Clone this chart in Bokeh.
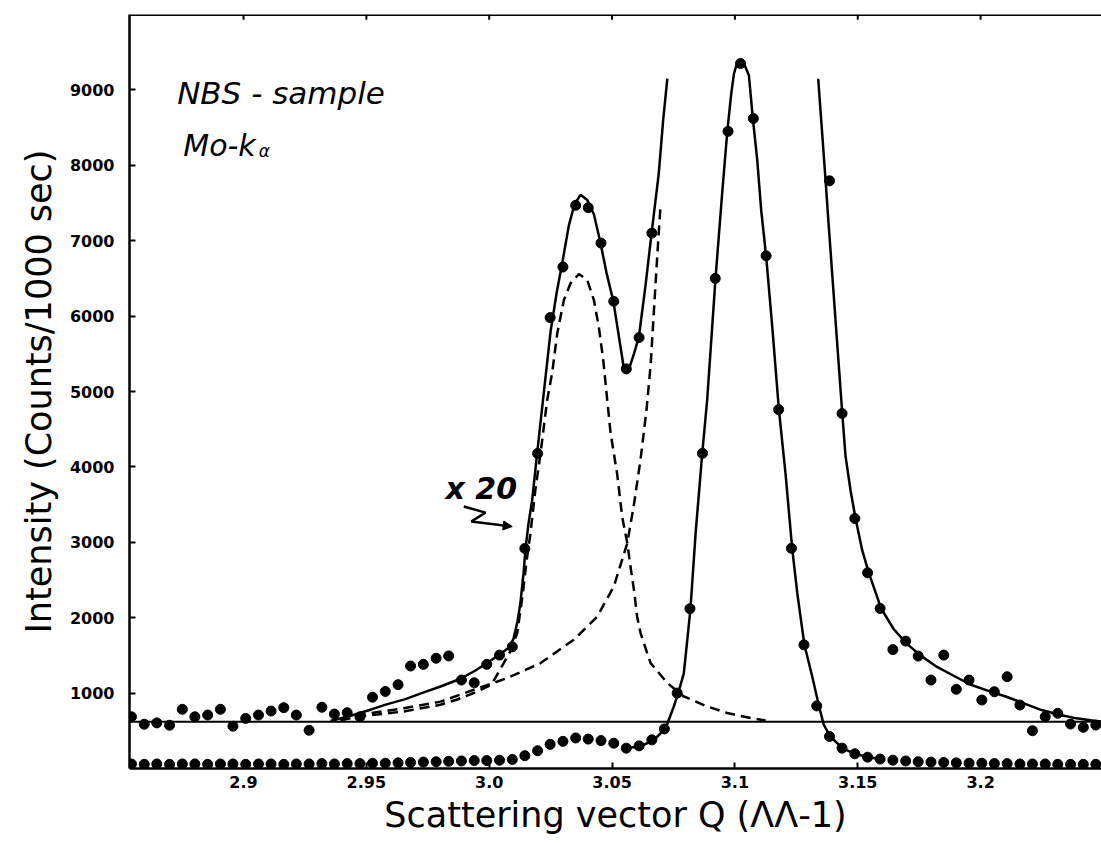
from bokeh.plotting import figure
from bokeh.models import (FixedTicker, Range1d, Span, Label, Arrow,
                          NormalHead, CustomJSTickFormatter)
from bokeh.embed import file_html
from bokeh.resources import INLINE

# ---------------- data ----------------
# measurement grid (scattering vector Q)
q = [2.8544, 2.8596, 2.8647, 2.8699, 2.8751, 2.8802, 2.8854, 2.8906, 2.8957, 2.9009,
     2.9061, 2.9112, 2.9164, 2.9215, 2.9267, 2.9319, 2.9370, 2.9422, 2.9474, 2.9525,
     2.9577, 2.9629, 2.9680, 2.9732, 2.9784, 2.9835, 2.9887, 2.9939, 2.9990, 3.0042,
     3.0094, 3.0145, 3.0197, 3.0248, 3.0300, 3.0352, 3.0403, 3.0455, 3.0507, 3.0558,
     3.0610, 3.0662, 3.0713, 3.0765, 3.0817, 3.0868, 3.0920, 3.0972, 3.1023, 3.1075,
     3.1127, 3.1178, 3.1230, 3.1281, 3.1333, 3.1385, 3.1436, 3.1488, 3.1540, 3.1591,
     3.1643, 3.1695, 3.1746, 3.1798, 3.1850, 3.1901, 3.1953, 3.2005, 3.2056, 3.2108,
     3.2160, 3.2211, 3.2263, 3.2314, 3.2366, 3.2418, 3.2469]

# measured counts (x1)
raw_counts = [60, 55, 60, 55, 60, 60, 55, 60, 60, 55,
              60, 60, 55, 60, 60, 65, 60, 65, 65, 70,
              70, 75, 80, 85, 90, 95, 100, 105, 105, 110,
              120, 170, 235, 320, 360, 405, 390, 370, 335, 270,
              300, 380, 525, 1000, 2120, 4180, 6500, 8450, 9350, 8620,
              6800, 4760, 2920, 1640, 830, 425, 270, 195, 150, 125,
              110, 100, 90, 85, 80, 75, 70, 70, 65, 65,
              60, 60, 60, 55, 55, 55, 55]

# same counts magnified x20 (None = off scale)
x20_counts = [686, 587, 605, 574, 785, 686, 709, 785, 561, 664,
              709, 762, 807, 709, 507, 812, 722, 740, 686, 946,
              1022, 1112, 1359, 1381, 1462, 1493, 1173, 1137, 1381, 1504,
              1614, 2918, 4178, 5980, 6651, 7469, 7438, 6969, 6196, 5300,
              5715, 7101, None, None, None, None, None, None, None, None,
              None, None, None, None, None, 7794, 4708, 3316, 2595, 2123,
              1577, 1690, 1491, 1173, 1504, 1050, 1173, 908, 1018, 1217,
              842, 501, 687, 732, 590, 546, 577]

background_x20 = 620

# fitted curve of the x1 data
fit_raw_q = [3.0555, 3.0616, 3.0670, 3.0718, 3.0751, 3.0769, 3.0792, 3.0806, 3.0819, 3.0840,
             3.0867, 3.0887, 3.0921, 3.0948, 3.0969, 3.0985, 3.0996, 3.1011, 3.1023, 3.1037,
             3.1057, 3.1073, 3.1091, 3.1107, 3.1127, 3.1152, 3.1179, 3.1206, 3.1233, 3.1254,
             3.1283, 3.1315, 3.1342, 3.1362, 3.1389, 3.1439, 3.1491, 3.1544, 3.1593]
fit_raw_i = [270, 295, 378, 533, 819, 997, 1262, 1700, 2114, 3117,
             4178, 4884, 6497, 7624, 8449, 8949, 9214, 9380, 9400, 9350,
             9191, 8618, 8065, 7402, 6797, 5856, 4761, 3912, 2919, 2322,
             1637, 1217, 828, 577, 421, 268, 192, 150, 125]

# fitted curve of the x20 data, left part
fit20_left_q = [2.9354, 2.9436, 2.9517, 2.9582, 2.9659, 2.9725, 2.9802, 2.9883, 2.9944, 3.0005,
                3.0046, 3.0079, 3.0099, 3.0115, 3.0127, 3.0140, 3.0148, 3.0160, 3.0175, 3.0195,
                3.0221, 3.0250, 3.0274, 3.0297, 3.0324, 3.0347, 3.0372, 3.0399, 3.0426, 3.0453,
                3.0477, 3.0505, 3.0522, 3.0534, 3.0547, 3.0555, 3.0567, 3.0589, 3.0609, 3.0636,
                3.0661, 3.0690, 3.0708, 3.0725]
fit20_left_i = [630, 700, 780, 850, 920, 1000, 1088, 1190, 1300, 1430,
                1520, 1600, 1720, 1950, 2194, 2600, 2922, 3250, 3563, 4180,
                4950, 5800, 6300, 6700, 7200, 7480, 7610, 7540, 7350, 6970,
                6580, 6200, 5850, 5600, 5330, 5240, 5280, 5500, 5720, 6400,
                7105, 7890, 8600, 9150]

# fitted curve of the x20 data, right part
fit20_right_q = [3.1339, 3.1355, 3.1369, 3.1382, 3.1396, 3.1416, 3.1437, 3.1450, 3.1471, 3.1491,
                 3.1518, 3.1545, 3.1595, 3.1646, 3.1698, 3.1755, 3.1821, 3.1890, 3.1963, 3.2040,
                 3.2105, 3.2179, 3.2248, 3.2325, 3.2390, 3.2468, 3.2520]
fit20_right_i = [9148, 8430, 7800, 7190, 6560, 5650, 4708, 4150, 3680, 3316,
                 2896, 2595, 2123, 1850, 1660, 1500, 1350, 1230, 1107, 1020,
                 952, 860, 775, 710, 665, 630, 615]

# component 1 (small peak, x20, dashed)
comp_small_q = [2.9395, 2.9476, 2.9653, 2.9802, 2.9867, 2.9937, 3.0009, 3.0059, 3.0087, 3.0114,
                3.0136, 3.0152, 3.0168, 3.0188, 3.0209, 3.0236, 3.0256, 3.0277, 3.0304, 3.0331,
                3.0365, 3.0399, 3.0426, 3.0446, 3.0464, 3.0480, 3.0494, 3.0521, 3.0541, 3.0562,
                3.0575, 3.0589, 3.0602, 3.0616, 3.0643, 3.0657, 3.0725, 3.0792, 3.0887, 3.0969,
                3.1064, 3.1125]
comp_small_i = [640, 690, 757, 846, 912, 1001, 1111, 1398, 1560, 1796,
                2300, 2750, 3121, 3700, 4182, 4888, 5242, 5772, 6213, 6435,
                6558, 6479, 6213, 5860, 5418, 4900, 4450, 3900, 3341, 2989,
                2679, 2370, 2016, 1796, 1531, 1398, 1133, 956, 823, 736,
                669, 638]

# component 2 (tail of main peak, x20, dashed)
comp_main_q = [2.9395, 2.9468, 2.9653, 2.9802, 2.9937, 3.0073, 3.0209, 3.0344, 3.0440, 3.0507,
               3.0562, 3.0589, 3.0616, 3.0640, 3.0657, 3.0670, 3.0684, 3.0697]
comp_main_i = [640, 709, 800, 887, 1044, 1199, 1398, 1707, 2016, 2413,
               2989, 3500, 4100, 4750, 5350, 6050, 6800, 7450]

x_ticks = [2.9, 2.95, 3.0, 3.05, 3.1, 3.15, 3.2]
x_tick_labels = ["2.9", "2.95", "3.0", "3.05", "3.1", "3.15", "3.2"]
y_ticks = [1000, 2000, 3000, 4000, 5000, 6000, 7000, 8000, 9000]

X_MIN, X_MAX = 2.8536, 3.2492
Y_MIN, Y_MAX = 0, 10000

# ---------------- figure ----------------
p = figure(width=1101, height=841,
           x_range=Range1d(X_MIN, X_MAX), y_range=Range1d(Y_MIN, Y_MAX),
           output_backend="svg", toolbar_location=None,
           min_border_left=129, min_border_right=0, min_border_top=14,
           min_border_bottom=73)
p.outline_line_color = None
p.xgrid.visible = False
p.ygrid.visible = False
p.background_fill_color = "white"
p.border_fill_color = "white"

TICK_FONT = "DejaVu Sans"
LABEL_FONT = "DejaVu Sans"

xa = p.xaxis[0]
xa.ticker = FixedTicker(ticks=x_ticks)
xa.formatter = CustomJSTickFormatter(args=dict(tvals=x_ticks, tlabels=x_tick_labels), code="""
let best = 0, bd = 1e9;
for (let i = 0; i < tvals.length; i++) {
  const d = Math.abs(tvals[i] - tick);
  if (d < bd) { bd = d; best = i; }
}
return tlabels[best];
""")
xa.major_tick_in = 6
xa.major_tick_out = 0
xa.minor_tick_line_color = None
xa.axis_line_width = 2.5
xa.major_tick_line_width = 2
xa.major_label_text_font = TICK_FONT
xa.major_label_text_font_style = "bold"
xa.major_label_text_font_size = "16px"
xa.major_label_text_color = "black"
xa.major_label_standoff = 7
xa.axis_label = "Scattering vector Q (ΛΛ-1)"
xa.axis_label_text_font = LABEL_FONT
xa.axis_label_text_font_style = "normal"
xa.axis_label_text_font_size = "35px"
xa.axis_label_text_color = "black"
xa.axis_label_standoff = 4

ya = p.yaxis[0]
ya.ticker = FixedTicker(ticks=y_ticks)
ya.major_tick_in = 6
ya.major_tick_out = 0
ya.minor_tick_line_color = None
ya.axis_line_width = 2.5
ya.major_tick_line_width = 2
ya.major_label_text_font = TICK_FONT
ya.major_label_text_font_style = "bold"
ya.major_label_text_font_size = "16px"
ya.major_label_text_color = "black"
ya.major_label_standoff = 15
ya.axis_label = "Intensity (Counts/1000 sec)"
ya.axis_label_text_font = LABEL_FONT
ya.axis_label_text_font_style = "normal"
ya.axis_label_text_font_size = "35px"
ya.axis_label_text_color = "black"
ya.axis_label_standoff = 8

# top border with inward ticks
p.add_layout(Span(location=Y_MAX, dimension="width", line_color="black", line_width=3))
p.segment(x0=x_ticks, y0=[Y_MAX] * len(x_ticks), x1=x_ticks,
          y1=[Y_MAX - 70] * len(x_ticks), line_color="black", line_width=2)

# background level of the x20 curve
p.add_layout(Span(location=background_x20, dimension="width",
                  line_color="black", line_width=2))

# fitted curves
p.line(fit_raw_q, fit_raw_i, line_color="black", line_width=2.5)
p.line(fit20_left_q, fit20_left_i, line_color="black", line_width=2.5)
p.line(fit20_right_q, fit20_right_i, line_color="black", line_width=2.5)
p.line(comp_small_q, comp_small_i, line_color="black", line_width=2.5, line_dash="10 6")
p.line(comp_main_q, comp_main_i, line_color="black", line_width=2.5, line_dash="10 6")

# data points
p.scatter(q, raw_counts, size=10, marker="circle", fill_color="black", line_color="black")
q20 = [qq for qq, v in zip(q, x20_counts) if v is not None]
v20 = [v for v in x20_counts if v is not None]
p.scatter(q20, v20, size=10, marker="circle", fill_color="black", line_color="black")

# annotations
p.add_layout(Label(x=2.8730, y=8953, text="NBS - sample", text_font=LABEL_FONT,
                   text_font_style="italic", text_font_size="31px",
                   text_color="black", text_baseline="alphabetic"))
p.add_layout(Label(x=2.8755, y=8268, text="Mo-k", text_font=LABEL_FONT,
                   text_font_style="italic", text_font_size="30px",
                   text_color="black", text_baseline="alphabetic"))
p.add_layout(Label(x=2.9062, y=8190, text="α", text_font=LABEL_FONT,
                   text_font_style="italic", text_font_size="17px",
                   text_color="black", text_baseline="alphabetic"))
p.add_layout(Label(x=2.9822, y=3718, text="x 20", text_font=LABEL_FONT,
                   text_font_style="bold italic", text_font_size="30px",
                   text_color="black", text_baseline="alphabetic"))
p.line([2.98966, 2.99850, 2.99267], [3474, 3394, 3275], line_color="black", line_width=2.5)
p.add_layout(Arrow(end=NormalHead(size=9, fill_color="black", line_color="black"),
                   x_start=2.99267, y_start=3275, x_end=3.00936, y_end=3209,
                   line_color="black", line_width=2.5))

open("out.html", "w").write(file_html(p, INLINE))
